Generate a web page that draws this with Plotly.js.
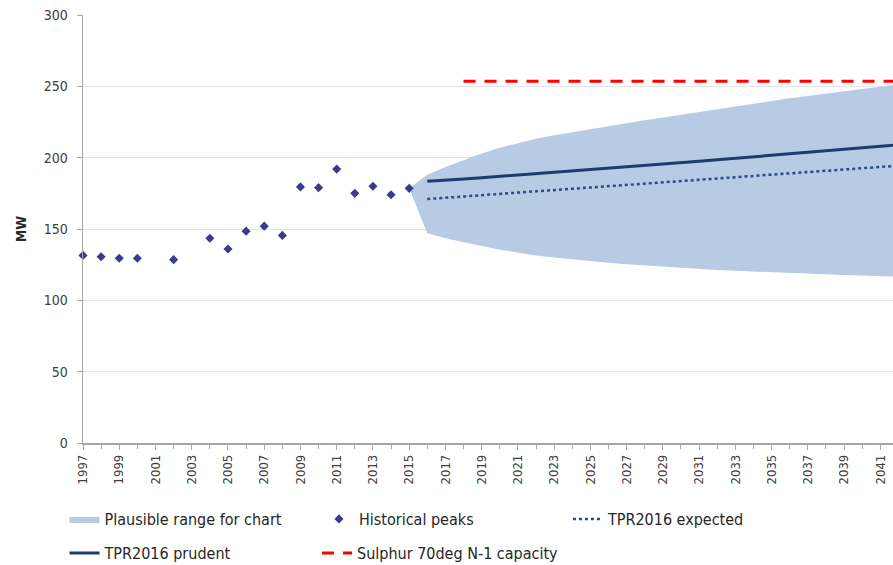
<!DOCTYPE html>
<html>
<head>
<meta charset="utf-8">
<script src="https://cdn.plot.ly/plotly-3.0.1.min.js"></script>
<style>html,body{margin:0;padding:0;background:#fff;}#chart{width:893px;height:565px;}</style>
</head>
<body>
<div id="chart"></div>
<script>
// Historical peaks
const histYears = [1997,1998,1999,2000,2002,2004,2005,2006,2007,2008,2009,2010,2011,2012,2013,2014,2015];
const histPeaks = [131.5,130.5,129.5,129.5,128.5,143.5,136,148.5,152,145.5,179.5,179,192,175,180,174,178.5];

// Forecast years
const fcYears = [2016,2017,2018,2019,2020,2021,2022,2023,2024,2025,2026,2027,2028,2029,2030,2031,2032,2033,2034,2035,2036,2037,2038,2039,2040,2041,2042];
const prudent = [183.5,184,185,186,187,188,189,189.5,190.5,191.5,192.5,193.5,194.5,195.5,196.5,197.5,198.5,199.5,200.5,201.5,202.5,203.5,204.5,205.5,207,208,209];
const expected = [171,172,173,173.8,174.6,175.5,176.4,177.3,178.2,179,180,181,181.8,182.7,183.6,184.5,185.4,186.3,187.2,188,189,190,190.8,191.7,192.6,193.5,194.4];

// Plausible range (starts at the 2015 peak)
const rangeYears = [2015,2016,2017,2018,2019,2020,2021,2022,2023,2024,2025,2026,2027,2028,2029,2030,2031,2032,2033,2034,2035,2036,2037,2038,2039,2040,2041,2042];
const rangeUpper = [178.5,188,193.5,198.5,203,207,210.3,213.2,215.8,218,220.2,222.2,224.2,226.2,228,230,232,234,236,238,239.8,241.6,243.3,245,246.7,248.3,250,251.5];
const rangeLower = [178.5,147,143.5,140.5,138,135.5,133.3,131.5,130,128.6,127.4,126.3,125.3,124.4,123.5,122.7,122,121.3,120.7,120.1,119.6,119.1,118.6,118.2,117.8,117.4,117,116.6];

// Capacity line
const capYears = [2018,2042];
const capValue = [253.5,253.5];

const yTicks = [0,50,100,150,200,250,300];
const xTickVals = [1997,1999,2001,2003,2005,2007,2009,2011,2013,2015,2017,2019,2021,2023,2025,2027,2029,2031,2033,2035,2037,2039,2041];

const FONT = "Liberation Sans Narrow, DejaVu Sans Condensed, Arial Narrow, sans-serif";

const traces = [
  {x: rangeYears, y: rangeLower, type:'scatter', mode:'lines', line:{width:0, color:'#b7cbe4'}, showlegend:false, hoverinfo:'skip'},
  {x: rangeYears, y: rangeUpper, type:'scatter', mode:'lines', fill:'tonexty', fillcolor:'#b7cbe4', line:{width:0, color:'#b7cbe4'}, name:'Plausible range for chart', legend:'legend'},
  {x: histYears, y: histPeaks, type:'scatter', mode:'markers', marker:{symbol:'diamond', size:7, color:'#3c3a8c'}, name:'Historical peaks', cliponaxis:false, legend:'legend2'},
  {x: fcYears, y: expected, type:'scatter', mode:'lines', line:{color:'#2b4a86', width:2.5, dash:'3px,3px'}, name:'TPR2016 expected', legend:'legend3'},
  {x: fcYears, y: prudent, type:'scatter', mode:'lines', line:{color:'#1f3b6e', width:3}, name:'TPR2016 prudent', legend:'legend4'},
  {x: capYears, y: capValue, type:'scatter', mode:'lines', line:{color:'#ff0000', width:3, dash:'12px,9px'}, name:'Sulphur 70deg N-1 capacity', legend:'legend5'}
];

function lg(x, y){
  return {x:x, y:y, xref:'container', yref:'container', xanchor:'left', yanchor:'middle', orientation:'h',
          bgcolor:'rgba(0,0,0,0)', font:{family:FONT, size:16, color:'#262626'}, itemwidth:30};
}
const row1 = 0.0814, row2 = 0.0212;

const layout = {
  width:893, height:565,
  margin:{l:83, r:0, t:15, b:122},
  paper_bgcolor:'#fff', plot_bgcolor:'#fff',
  font:{family:FONT, color:'#404040'},
  xaxis:{
    type:'linear', range:[1997, 2041.7],
    tickvals:xTickVals, ticktext:xTickVals.map(String), tickangle:-90,
    ticks:'outside', ticklen:5, tickcolor:'#a6a6a6',
    minor:{dtick:1, tick0:1997, ticks:'outside', ticklen:4, tickcolor:'#a6a6a6', showgrid:false},
    showgrid:false, zeroline:false, showline:true, linecolor:'#a6a6a6', linewidth:1.5,
    tickfont:{family:FONT, size:13, color:'#404040'}
  },
  yaxis:{
    range:[0,300], tickvals:yTicks, ticks:'outside', ticklen:5, tickcolor:'#a6a6a6',
    ticklabelstandoff:6,
    showgrid:true, gridcolor:'#e3e3e3', gridwidth:1, zeroline:false,
    showline:true, linecolor:'#a6a6a6', linewidth:1.5,
    tickfont:{family:FONT, size:14, color:'#404040'},
    title:{text:'<b>MW</b>', font:{family:FONT, size:14, color:'#262626'}, standoff:14}
  },
  legend: lg(0.0723, row1),
  legend2: lg(0.3572, row1),
  legend3: lg(0.636, row1),
  legend4: lg(0.0723, row2),
  legend5: lg(0.355, row2),
  showlegend:true
};

Plotly.newPlot('chart', traces, layout, {staticPlot:true, displayModeBar:false});
</script>
</body>
</html>
